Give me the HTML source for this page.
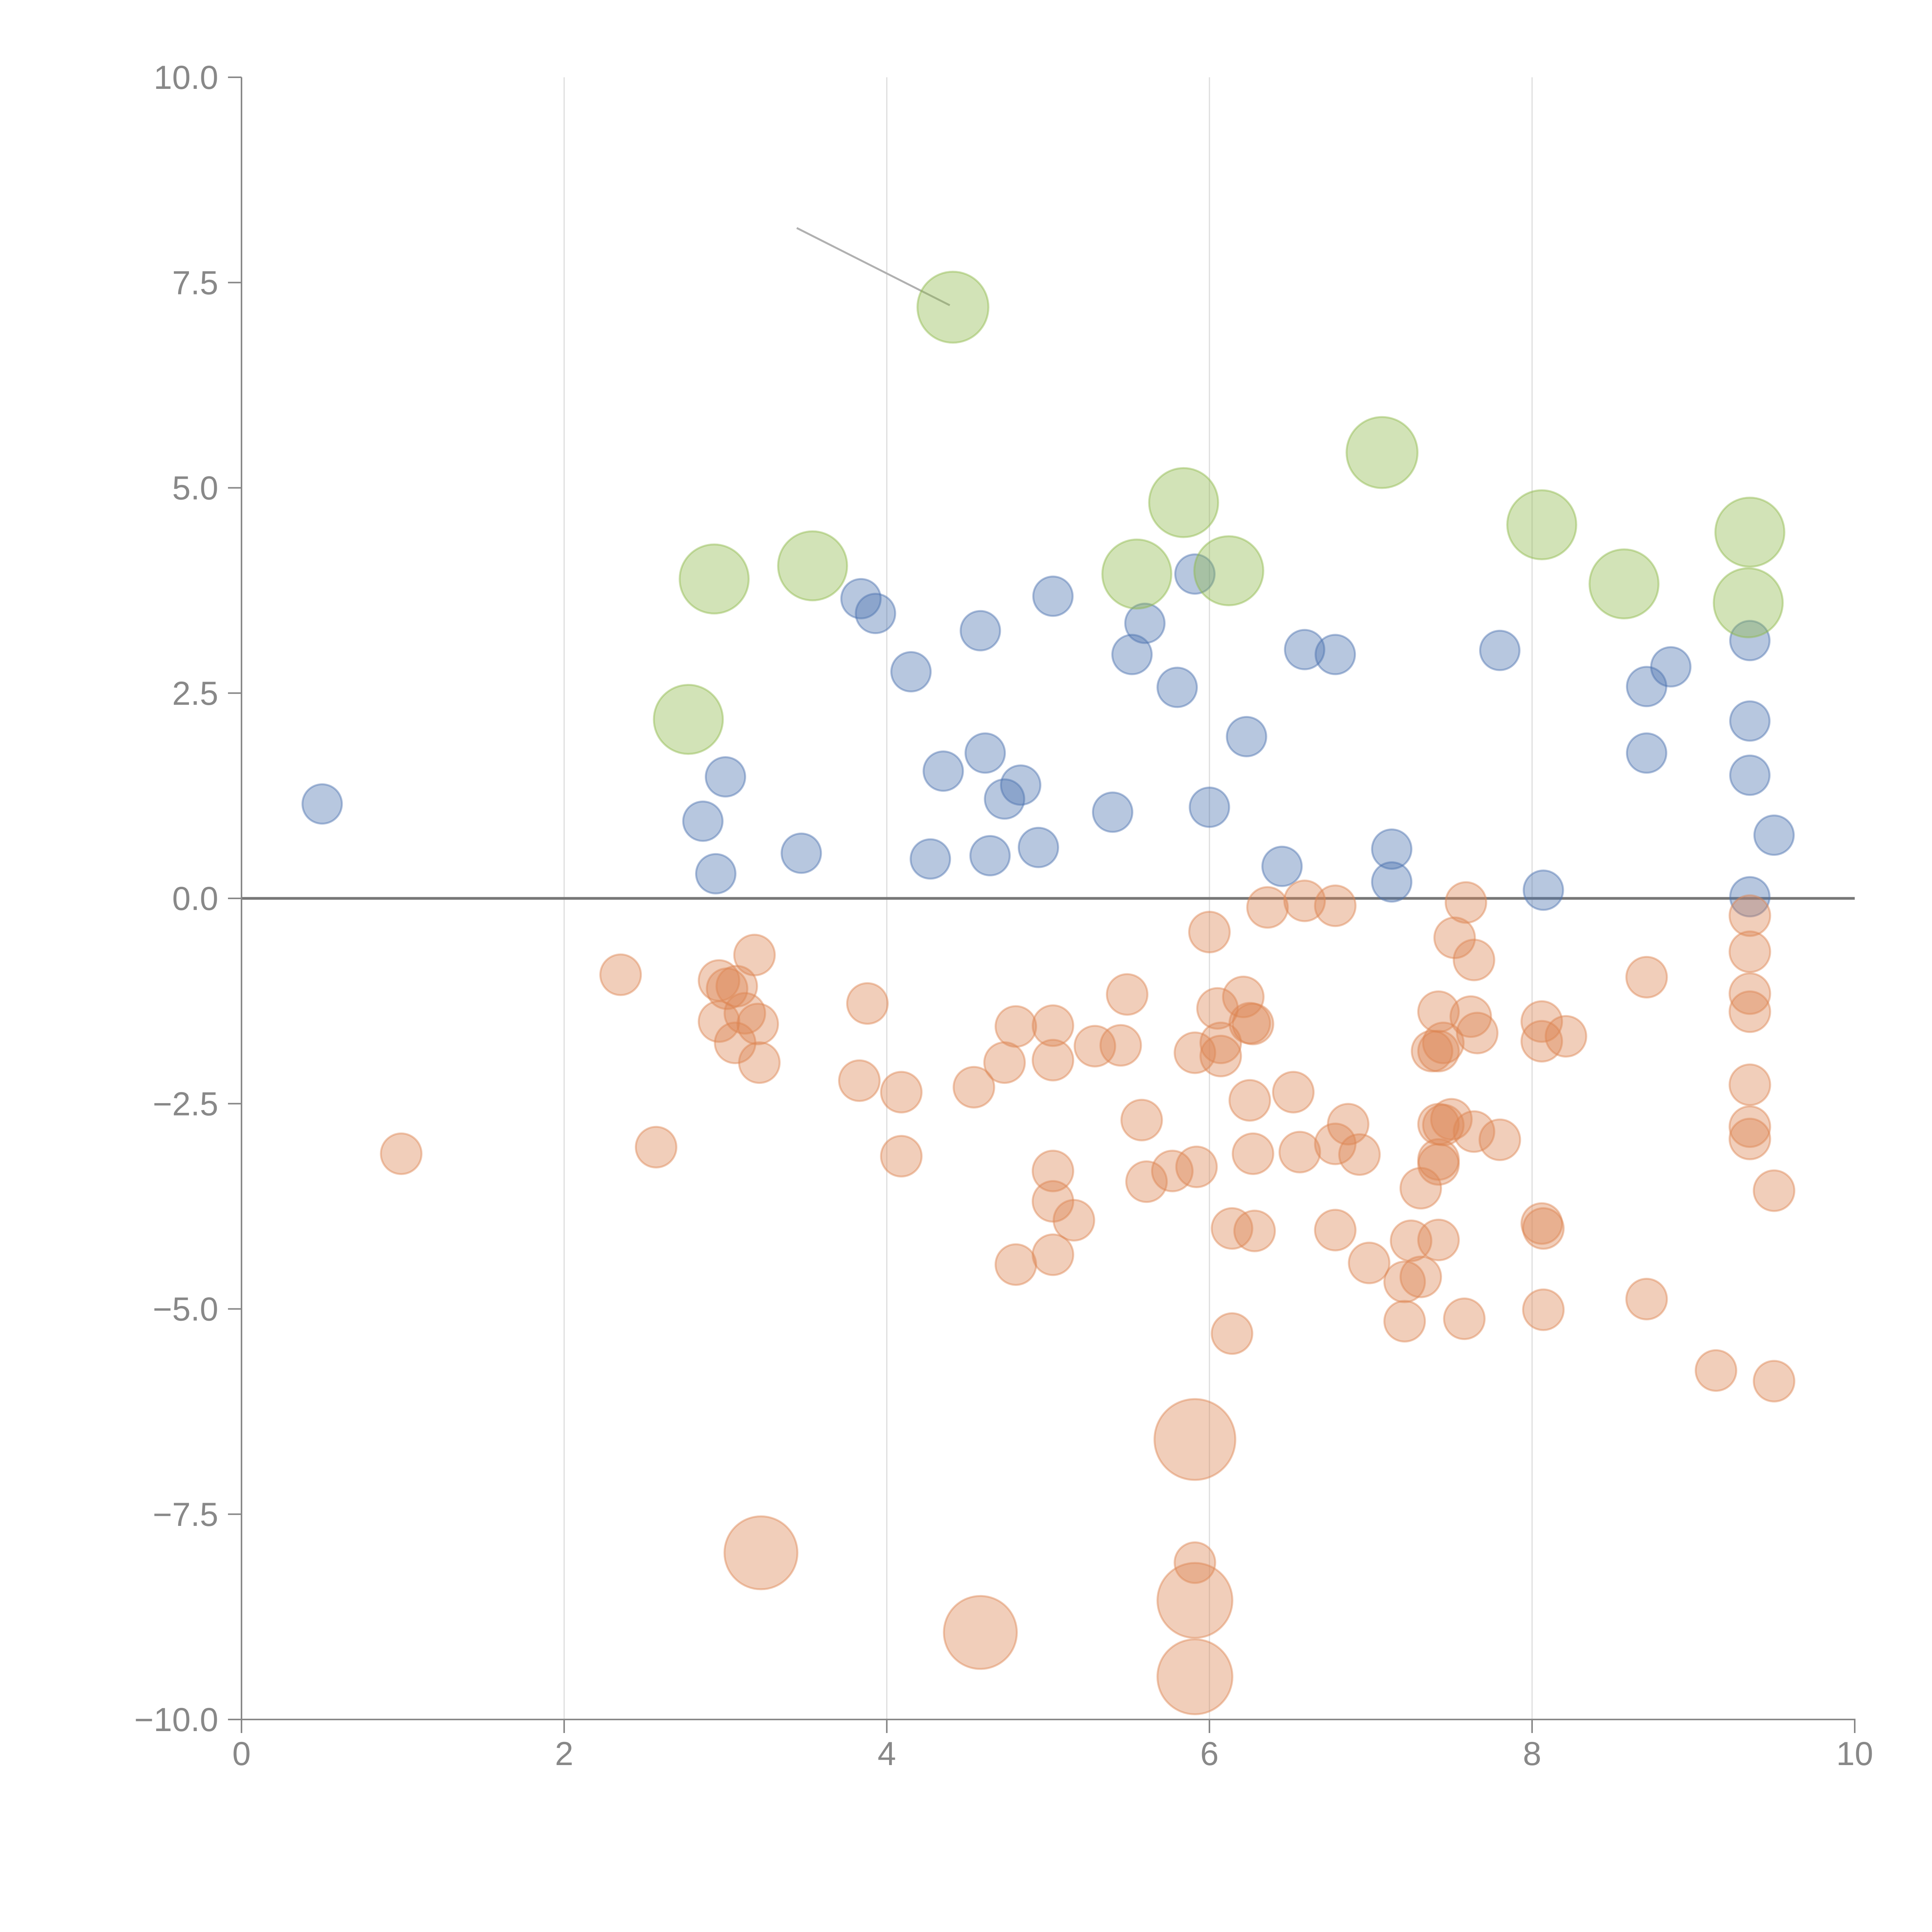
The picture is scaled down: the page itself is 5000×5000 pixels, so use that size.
<!DOCTYPE html>
<html><head><meta charset="utf-8"><style>html,body{margin:0;padding:0;background:#fff}svg{display:block}</style></head>
<body>
<svg id="chart" width="5000" height="5000" viewBox="0 0 5000 5000" xmlns="http://www.w3.org/2000/svg" font-family="Liberation Sans, sans-serif">
<rect width="5000" height="5000" fill="#fff"/>
<g id="grid"></g>
<g id="marks"></g>
<g id="axes"></g>
</svg>
<script>
const xTicks = [0, 2, 4, 6, 8, 10];
const yTicks = [10, 7.5, 5, 2.5, 0, -2.5, -5, -7.5, -10];
const xTickLabels = ["0", "2", "4", "6", "8", "10"];
const yTickLabels = ["10.0", "7.5", "5.0", "2.5", "0.0", "\u22122.5", "\u22125.0", "\u22127.5", "\u221210.0"];

const blueX = [0.5,2.86,3.0,2.94,3.47,3.84,3.93,4.15,4.27,4.35,4.58,4.61,4.64,4.73,4.83,4.94,5.03,5.4,5.52,5.6,5.8,5.91,6.0,6.23,6.45,6.59,6.78,7.13,7.13,7.8,8.07,8.71,8.71,8.86,9.35,9.35,9.35,9.35,9.5];
const blueY = [1.15,0.94,1.48,0.3,0.55,3.65,3.47,2.76,0.48,1.55,3.26,1.77,0.52,1.21,1.38,0.62,3.68,1.05,2.97,3.35,2.57,3.95,1.11,1.97,0.39,3.03,2.97,0.6,0.2,3.02,0.1,2.58,1.77,2.82,3.14,2.16,1.5,0.02,0.77];

const greenX = [4.41,2.93,3.54,2.77,5.55,5.84,6.12,7.07,8.06,8.57,9.35,9.34];
const greenY = [7.2,3.89,4.05,2.18,3.95,4.82,3.99,5.43,4.55,3.83,4.46,3.6];
const greenS = [1.8,1.75,1.75,1.75,1.75,1.75,1.75,1.8,1.75,1.75,1.75,1.75];

const orangeX = [0.99,2.35,2.57,2.96,3.01,3.07,2.96,3.12,3.2,3.06,3.18,3.21,3.22,3.83,3.88,4.09,4.09,4.54,4.58,4.73,4.8,4.8,5.03,5.03,5.03,5.03,5.03,5.16,5.29,5.45,5.49,5.58,5.61,5.77,5.91,5.92,5.91,5.91,5.91,5.91,6.0,6.05,6.07,6.07,6.14,6.14,6.21,6.25,6.27,6.25,6.27,6.28,6.36,6.52,6.56,6.59,6.78,6.78,6.78,6.86,6.93,6.99,7.21,7.21,7.25,7.31,7.31,7.38,7.42,7.42,7.45,7.42,7.45,7.5,7.42,7.42,7.42,7.52,7.59,7.58,7.62,7.64,7.66,7.64,7.8,8.06,8.06,8.06,8.07,8.07,8.21,8.71,8.71,9.14,9.35,9.35,9.35,9.35,9.35,9.35,9.35,9.5,9.5];
const orangeY = [-3.11,-0.93,-3.03,-1.0,-1.1,-1.07,-1.5,-1.4,-1.53,-1.76,-0.69,-2.0,-7.97,-2.22,-1.28,-2.36,-3.14,-2.3,-8.94,-2.0,-1.56,-4.46,-1.55,-1.97,-3.32,-3.69,-4.34,-3.92,-1.8,-1.79,-1.17,-2.7,-3.45,-3.32,-1.88,-3.27,-6.59,-8.09,-8.55,-9.48,-0.41,-1.34,-1.76,-1.92,-4.02,-5.3,-1.2,-1.52,-1.53,-2.46,-3.11,-4.05,-0.11,-2.36,-3.09,-0.03,-0.09,-2.99,-4.04,-2.75,-3.12,-4.44,-4.67,-5.15,-4.17,-3.53,-4.61,-1.86,-1.38,-1.86,-1.76,-2.75,-2.76,-2.69,-3.18,-3.24,-4.16,-0.48,-0.05,-5.12,-1.44,-0.75,-1.64,-2.84,-2.94,-1.5,-1.74,-3.96,-4.02,-5.01,-1.68,-0.96,-4.88,-5.75,-0.21,-0.65,-1.16,-1.38,-2.27,-2.78,-2.93,-3.56,-5.88];
const orangeBig = {12:1.85, 18:1.85, 36:2.05, 38:1.9, 39:1.9};

const NS = "http://www.w3.org/2000/svg";
const X0 = 625, X1 = 4800, Y0 = 4450, Y1 = 200;
function xs(v){ return X0 + (v - 0) / 10 * (X1 - X0); }
function ys(v){ return Y0 - (v + 10) / 20 * (Y0 - Y1); }
const UNIT = 16 * 3.19;
function mk(tag, attrs, parent){ const e = document.createElementNS(NS, tag); for (const k in attrs) e.setAttribute(k, attrs[k]); parent.appendChild(e); return e; }

const grid = document.getElementById('grid');
const marks = document.getElementById('marks');
const axes = document.getElementById('axes');

xTicks.forEach((t, i) => {
  if (t > 0 && t < 10) {
    const gl = mk('line', {x1: xs(t), x2: xs(t), y1: Y1, y2: Y0, stroke: '#dddddd', 'stroke-width': 3}, grid);
    
    
  }
});

const zl = mk('line', {x1: X0, x2: X1, y1: ys(0), y2: ys(0), stroke: '#777777', 'stroke-width': 7}, grid);



const al = mk('line', {x1: 2062, y1: 590, x2: 2458, y2: 790, stroke: '#b0b0b0', 'stroke-width': 5}, grid);



function drawSeries(X, Y, sizeFn, fill, stroke, name){
  X.forEach((xv, i) => {
    const c = mk('circle', {cx: xs(xv), cy: ys(Y[i]), r: UNIT * sizeFn(i), fill: fill, stroke: stroke, 'stroke-width': 5}, marks);
    
    
  });
}
drawSeries(blueX, blueY, () => 1, 'rgba(76,114,176,0.4)', 'rgba(76,114,176,0.45)', 'blue-point');
drawSeries(orangeX, orangeY, i => (orangeBig[i] || 1.03), 'rgba(221,132,82,0.4)', 'rgba(221,132,82,0.45)', 'orange-point');
drawSeries(greenX, greenY, i => greenS[i], 'rgba(143,184,74,0.4)', 'rgba(143,184,74,0.45)', 'green-point');

const ya = mk('path', {d: `M${X0},${Y1} V${Y0} H${X1} V${Y0+35}`, fill: 'none', stroke: '#888888', 'stroke-width': 4}, axes);



yTicks.forEach((t, i) => {
  const tk = mk('line', {x1: X0 - 35, x2: X0, y1: ys(t), y2: ys(t), stroke: '#888888', 'stroke-width': 4}, axes);
  
  
  const tx = mk('text', {x: X0 - 60, y: ys(t) + 30, 'text-anchor': 'end', 'font-size': 86, fill: '#888888'}, axes);
  tx.textContent = yTickLabels[i];
  
  
});
xTicks.forEach((t, i) => {
  const tk = mk('line', {x1: xs(t), x2: xs(t), y1: Y0, y2: Y0 + 35, stroke: '#888888', 'stroke-width': 4}, axes);
  
  
  const tx = mk('text', {x: xs(t), y: Y0 + 118, 'text-anchor': 'middle', 'font-size': 86, fill: '#888888'}, axes);
  tx.textContent = xTickLabels[i];
  
  
});
</script>
</body></html>
